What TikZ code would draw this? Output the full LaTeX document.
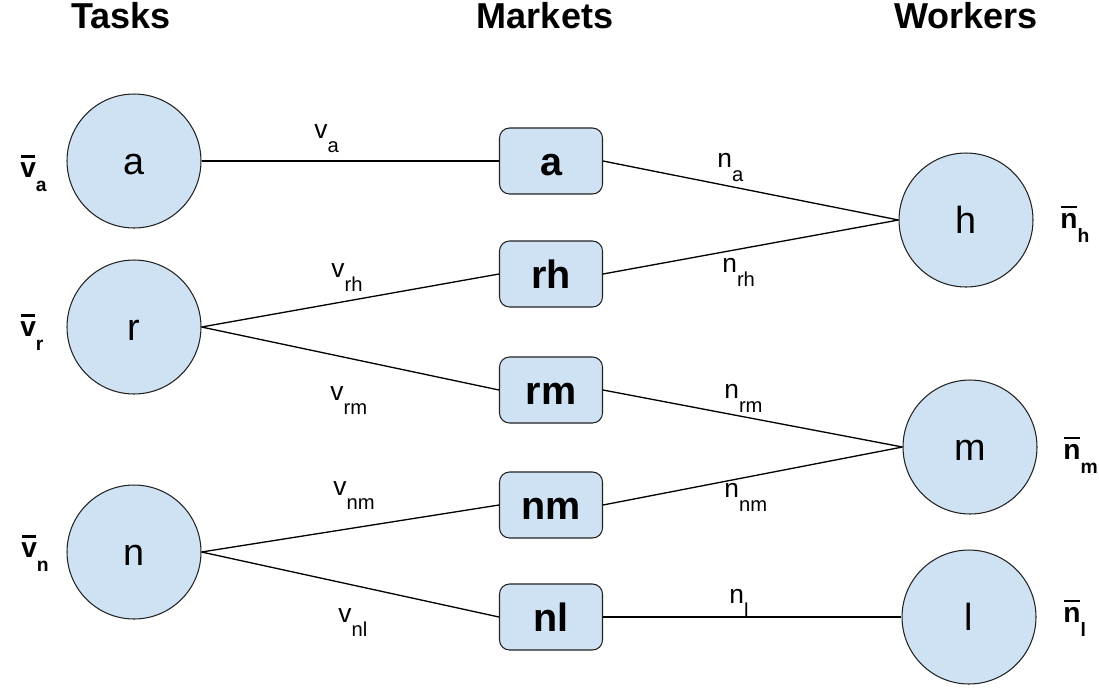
\documentclass[tikz,border=0pt]{standalone}
\usepackage{fontspec}
\setmainfont{Liberation Sans}
\usetikzlibrary{positioning}
\definecolor{nodefill}{HTML}{CFE2F3}
\definecolor{edgegray}{HTML}{222222}
\newcommand{\lbl}[2]{#1\raisebox{-8.5pt}{\fontsize{11.5}{13}\selectfont #2}}
\newcommand{\barlbl}[2]{\setbox0=\hbox{#1}\makebox[0pt][l]{\hspace{0.5pt}\raisebox{\dimexpr\ht0+2.6pt\relax}{\rule{\dimexpr\wd0-1pt\relax}{1.3pt}}}\box0\raisebox{-8pt}{\fontsize{11}{13}\selectfont #2}}
\tikzset{
  task/.style={circle, draw=edgegray, line width=0.6pt, fill=nodefill, minimum size=2.68cm, inner sep=0pt, text height=15.5pt, text depth=0pt, font=\fontsize{21.5}{24}\selectfont},
  market/.style={rectangle, rounded corners=0.2cm, draw=edgegray, line width=0.6pt, fill=nodefill, minimum width=2.06cm, minimum height=1.32cm, inner sep=0pt, text height=16.2pt, text depth=0pt, font=\fontsize{22.5}{24}\selectfont\bfseries},
  title/.style={anchor=base, font=\fontsize{20.5}{24}\selectfont\bfseries},
  elabel/.style={anchor=base west, inner sep=0pt, font=\fontsize{15}{17}\selectfont},
  blabel/.style={anchor=base west, inner sep=0pt, font=\fontsize{16}{18}\selectfont\bfseries},
  link/.style={line width=0.75pt, draw=black}
}
\begin{document}
\begin{tikzpicture}[x=0.02cm, y=-0.02cm]
\useasboundingbox (0,0) rectangle (1099,687);
% titles
\node[title] (tTasks) at (121,28) {Tasks};
\node[title] (tMarkets) at (545,28) {Markets};
\node[title] (tWorkers) at (966,28) {Workers};
% task circles
\node[task] (Ta) at (134,161) {a};
\node[task] (Tr) at (134,327) {r};
\node[task] (Tn) at (134,552) {n};
% worker circles
\node[task] (Wh) at (966,220) {h};
\node[task] (Wm) at (970,447) {m};
\node[task] (Wl) at (969,617) {l};
% markets
\node[market] (Ma) at (551,161) {a};
\node[market] (Mrh) at (551,274) {rh};
\node[market] (Mrm) at (551,390) {rm};
\node[market] (Mnm) at (551,505) {nm};
\node[market] (Mnl) at (551,617) {nl};
% connectors
\draw[link] (Ta.east) -- (Ma.west);
\draw[link] (Tr.east) -- (Mrh.west);
\draw[link] (Tr.east) -- (Mrm.west);
\draw[link] (Tn.east) -- (Mnm.west);
\draw[link] (Tn.east) -- (Mnl.west);
\draw[link] (Ma.east) -- (Wh.west);
\draw[link] (Mrh.east) -- (Wh.west);
\draw[link] (Mrm.east) -- (Wm.west);
\draw[link] (Mnm.east) -- (Wm.west);
\draw[link] (Mnl.east) -- (Wl.west);
% edge labels
\node[elabel] (la) at (314,138) {\lbl{v}{a}};
\node[elabel] (lrh) at (331,277) {\lbl{v}{rh}};
\node[elabel] (lrm) at (330,400) {\lbl{v}{rm}};
\node[elabel] (lnm) at (333,495) {\lbl{v}{nm}};
\node[elabel] (lnl) at (338,622) {\lbl{v}{nl}};
\node[elabel] (ma) at (717,167) {\lbl{n}{a}};
\node[elabel] (mrh) at (722,272) {\lbl{n}{rh}};
\node[elabel] (mrm) at (724,398) {\lbl{n}{rm}};
\node[elabel] (mnm) at (724,497) {\lbl{n}{nm}};
\node[elabel] (mnl) at (729,603) {\lbl{n}{l}};
% bar labels
\node[blabel] (ba) at (20,177) {\barlbl{v}{a}};
\node[blabel] (br) at (20,336) {\barlbl{v}{r}};
\node[blabel] (bn) at (21,557) {\barlbl{v}{n}};
\node[blabel] (bh) at (1060,228) {\barlbl{n}{h}};
\node[blabel] (bm) at (1063,459) {\barlbl{n}{m}};
\node[blabel] (bl) at (1063,622) {\barlbl{n}{l}};
\end{tikzpicture}
\end{document}
